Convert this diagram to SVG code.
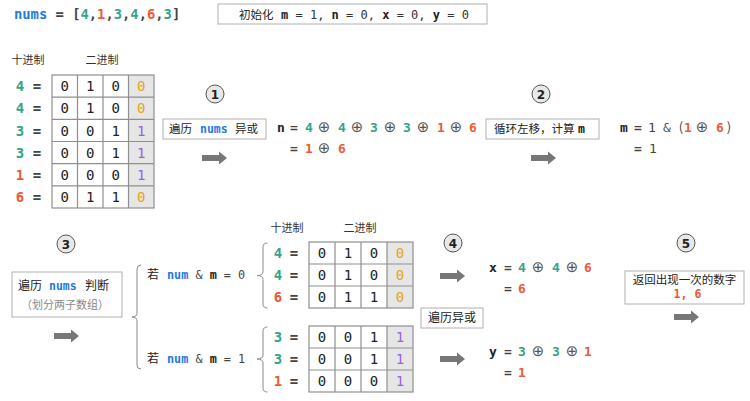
<svg xmlns="http://www.w3.org/2000/svg" xmlns:xlink="http://www.w3.org/1999/xlink" width="750" height="401" viewBox="0 0 750 401">
<defs>
<style>
.m{font-family:"DejaVu Sans Mono","Liberation Mono",monospace}
.cj{font-family:"Noto Sans CJK SC","Noto Sans",sans-serif}
.b{font-weight:bold}
.t{fill:#35a38c}
.r{fill:#ec5a36}
.bl{fill:#1f7ae0}
.g{fill:#e3a511}
.p{fill:#9b5de5}
.k{fill:#222}
.box{fill:#fff;stroke:#b0b0b0;stroke-width:1}
.grid{fill:none;stroke:#8f8f8f;stroke-width:1.2}
.shade{fill:#e6e6e6}
.cell{font-family:"DejaVu Sans Mono","Liberation Mono",monospace;font-size:14px;fill:#222;text-anchor:middle}
.lab{font-family:"DejaVu Sans Mono","Liberation Mono",monospace;font-size:14px;font-weight:bold;text-anchor:middle}
.eq{font-family:"DejaVu Sans Mono","Liberation Mono",monospace;font-size:13px;text-anchor:middle}
.op{font-family:"DejaVu Sans","Liberation Sans",sans-serif;font-size:15px;fill:#555;text-anchor:middle}
.hd{font-family:"Noto Sans CJK SC",sans-serif;font-size:11px;fill:#333;text-anchor:middle}
.circ{fill:#e8e8e8;stroke:#555;stroke-width:1}
.num{font-family:"DejaVu Sans","Liberation Sans",sans-serif;font-size:12px;font-weight:bold;fill:#222;text-anchor:middle}
.arr{fill:#777}
.brace{fill:none;stroke:#8a8a8a;stroke-width:1}
</style>
<path id="arrow" d="M0,-3 H17 V-6.5 L25,0 L17,6.5 V3 H0 Z"/>
</defs>
<rect width="750" height="401" fill="#fff"/>

<g id="title">
<text x="14" y="19" class="m b" font-size="13.8"><tspan class="bl">nums</tspan><tspan fill="#444"> = [</tspan><tspan class="t">4</tspan><tspan fill="#444">,</tspan><tspan class="r">1</tspan><tspan fill="#444">,</tspan><tspan class="t">3</tspan><tspan fill="#444">,</tspan><tspan class="t">4</tspan><tspan fill="#444">,</tspan><tspan class="r">6</tspan><tspan fill="#444">,</tspan><tspan class="t">3</tspan><tspan fill="#444">]</tspan></text>
</g>

<g id="init">
<rect class="box" x="218" y="4" width="269" height="20"/>
<text x="239" y="19" class="cj" font-size="11.5" fill="#222">初始化</text>
<text x="281" y="19" class="m" font-size="12" fill="#333"><tspan class="b k">m</tspan> = 1, <tspan class="b k">n</tspan> = 0, <tspan class="b k">x</tspan> = 0, <tspan class="b k">y</tspan> = 0</text>
</g>

<g id="table-left">
<text x="28" y="64" class="hd">十进制</text>
<text x="102" y="64" class="hd">二进制</text>
<rect class="shade" x="128.5" y="75" width="25.5" height="133"/>
<rect class="grid" x="52" y="75" width="102" height="133"/>
<path class="grid" d="M77.5,75V208M103,75V208M128.5,75V208M52,97.2H154M52,119.3H154M52,141.5H154M52,163.7H154M52,185.8H154"/>
<g class="lab">
<text x="20" y="91" class="t">4</text><text x="20" y="113" class="t">4</text><text x="20" y="135.5" class="t">3</text><text x="20" y="157.5" class="t">3</text><text x="20" y="180" class="r">1</text><text x="20" y="202" class="r">6</text>
</g>
<g class="lab" fill="#444">
<text x="37" y="91">=</text><text x="37" y="113">=</text><text x="37" y="135.5">=</text><text x="37" y="157.5">=</text><text x="37" y="180">=</text><text x="37" y="202">=</text>
</g>
<g class="cell">
<text x="64.75" y="91">0</text><text x="90.25" y="91">1</text><text x="115.75" y="91">0</text><text x="141.25" y="91" class="g">0</text>
<text x="64.75" y="113">0</text><text x="90.25" y="113">1</text><text x="115.75" y="113">0</text><text x="141.25" y="113" class="g">0</text>
<text x="64.75" y="135.5">0</text><text x="90.25" y="135.5">0</text><text x="115.75" y="135.5">1</text><text x="141.25" y="135.5" class="p">1</text>
<text x="64.75" y="157.5">0</text><text x="90.25" y="157.5">0</text><text x="115.75" y="157.5">1</text><text x="141.25" y="157.5" class="p">1</text>
<text x="64.75" y="180">0</text><text x="90.25" y="180">0</text><text x="115.75" y="180">0</text><text x="141.25" y="180" class="p">1</text>
<text x="64.75" y="202">0</text><text x="90.25" y="202">1</text><text x="115.75" y="202">1</text><text x="141.25" y="202" class="g">0</text>
</g>
</g>

<g id="step1"><circle class="circ" cx="215" cy="94" r="9"/><text x="215" y="98.5" class="num">1</text></g>
<g id="box1">
<rect class="box" x="163" y="119" width="103" height="20"/>
<text y="133" font-size="11.5"><tspan x="169" class="cj" fill="#222">遍历</tspan><tspan x="200" class="m b bl">nums</tspan><tspan x="235" class="cj" fill="#222">异或</tspan></text>
</g>
<g id="arrow1"><use xlink:href="#arrow" href="#arrow" x="202" y="158" class="arr"/></g>

<g id="eq-n">
<text x="281" y="132" class="eq b k">n</text>
<text x="294" y="132" class="eq b" fill="#444">=</text>
<text x="309" y="132" class="eq b t">4</text>
<text x="324" y="132" class="op">⊕</text>
<text x="342" y="132" class="eq b t">4</text>
<text x="357" y="132" class="op">⊕</text>
<text x="374" y="132" class="eq b t">3</text>
<text x="390" y="132" class="op">⊕</text>
<text x="407" y="132" class="eq b t">3</text>
<text x="423" y="132" class="op">⊕</text>
<text x="441" y="132" class="eq b r">1</text>
<text x="456" y="132" class="op">⊕</text>
<text x="473" y="132" class="eq b r">6</text>
<text x="294" y="153" class="eq b" fill="#444">=</text>
<text x="309" y="153" class="eq b r">1</text>
<text x="324" y="153" class="op">⊕</text>
<text x="342" y="153" class="eq b r">6</text>
</g>

<g id="step2"><circle class="circ" cx="541" cy="94" r="9"/><text x="541" y="98.5" class="num">2</text></g>
<g id="box2">
<rect class="box" x="486" y="119" width="113" height="20"/>
<text y="133" font-size="11.5"><tspan x="494" class="cj" fill="#222">循环左移，计算</tspan><tspan x="578" class="m b k">m</tspan></text>
</g>
<g id="arrow2"><use xlink:href="#arrow" href="#arrow" x="531" y="158" class="arr"/></g>

<g id="eq-m">
<text x="624" y="132" class="eq b k">m</text>
<text x="638" y="132" class="eq b" fill="#444">=</text>
<text x="652" y="132" class="eq" fill="#444">1</text>
<text x="667" y="132" class="eq" fill="#555">&amp;</text>
<text x="681" y="132" class="cj" font-size="13" fill="#444" text-anchor="middle">(</text>
<text x="688" y="132" class="eq b r">1</text>
<text x="702" y="132" class="op">⊕</text>
<text x="720" y="132" class="eq b r">6</text>
<text x="729" y="132" class="cj" font-size="13" fill="#444" text-anchor="middle">)</text>
<text x="638" y="153" class="eq b" fill="#444">=</text>
<text x="653" y="153" class="eq" fill="#444">1</text>
</g>

<g id="step3"><circle class="circ" cx="66" cy="244" r="9"/><text x="66" y="248.5" class="num">3</text></g>
<g id="box3">
<rect class="box" x="12" y="272" width="110" height="45"/>
<text y="290" font-size="12"><tspan x="18" class="cj" fill="#222">遍历</tspan><tspan x="49" class="m b bl" font-size="11.5">nums</tspan><tspan x="85" class="cj" fill="#222">判断</tspan></text>
<text x="65" y="309" class="cj" font-size="11" fill="#888" text-anchor="middle">（划分两子数组）</text>
</g>
<g id="arrow3"><use xlink:href="#arrow" href="#arrow" x="54" y="336" class="arr"/></g>

<g id="cond0">
<text x="147" y="279" class="cj" font-size="12" fill="#222">若</text>
<text x="167" y="279" class="m" font-size="11.8" fill="#444"><tspan class="b bl">num</tspan> &amp; <tspan class="b k">m</tspan> = 0</text>
</g>
<g id="cond1">
<text x="147" y="363" class="cj" font-size="12" fill="#222">若</text>
<text x="167" y="363" class="m" font-size="11.8" fill="#444"><tspan class="b bl">num</tspan> &amp; <tspan class="b k">m</tspan> = 1</text>
</g>

<g id="connectors">
<path class="brace" d="M141,265 Q137,265 137,269 V313 Q137,317 132,317 Q137,317 137,321 V365 Q137,369 141,369"/>
<path class="brace" d="M267.5,243 Q263,243 263,247 V271.5 Q263,275.5 257,275.5 Q263,275.5 263,279.5 V304 Q263,308 267.5,308"/>
<path class="brace" d="M267.5,327 Q263,327 263,331 V355 Q263,359 257,359 Q263,359 263,363 V388 Q263,392 267.5,392"/>
</g>

<g id="table-top">
<text x="287" y="232" class="hd">十进制</text>
<text x="360" y="232" class="hd">二进制</text>
<rect class="shade" x="387" y="242" width="26" height="66"/>
<rect class="grid" x="309" y="242" width="104" height="66"/>
<path class="grid" d="M335,242V308M361,242V308M387,242V308M309,264H413M309,286H413"/>
<g class="lab"><text x="278" y="258" class="t">4</text><text x="278" y="280" class="t">4</text><text x="278" y="302" class="r">6</text></g>
<g class="lab" fill="#444"><text x="294" y="258">=</text><text x="294" y="280">=</text><text x="294" y="302">=</text></g>
<g class="cell">
<text x="322" y="258">0</text><text x="348" y="258">1</text><text x="374" y="258">0</text><text x="400" y="258" class="g">0</text>
<text x="322" y="280">0</text><text x="348" y="280">1</text><text x="374" y="280">0</text><text x="400" y="280" class="g">0</text>
<text x="322" y="302">0</text><text x="348" y="302">1</text><text x="374" y="302">1</text><text x="400" y="302" class="g">0</text>
</g>
</g>

<g id="table-bottom">
<rect class="shade" x="387" y="326" width="26" height="66"/>
<rect class="grid" x="309" y="326" width="104" height="66"/>
<path class="grid" d="M335,326V392M361,326V392M387,326V392M309,348H413M309,370H413"/>
<g class="lab"><text x="278" y="342" class="t">3</text><text x="278" y="364" class="t">3</text><text x="278" y="386" class="r">1</text></g>
<g class="lab" fill="#444"><text x="294" y="342">=</text><text x="294" y="364">=</text><text x="294" y="386">=</text></g>
<g class="cell">
<text x="322" y="342">0</text><text x="348" y="342">0</text><text x="374" y="342">1</text><text x="400" y="342" class="p">1</text>
<text x="322" y="364">0</text><text x="348" y="364">0</text><text x="374" y="364">1</text><text x="400" y="364" class="p">1</text>
<text x="322" y="386">0</text><text x="348" y="386">0</text><text x="374" y="386">0</text><text x="400" y="386" class="p">1</text>
</g>
</g>

<g id="step4"><circle class="circ" cx="453" cy="243" r="9"/><text x="453" y="247.5" class="num">4</text></g>
<g id="arrow4a"><use xlink:href="#arrow" href="#arrow" x="440" y="276" class="arr"/></g>
<g id="box4">
<rect class="box" x="421" y="308" width="62" height="20"/>
<text x="452" y="322" class="cj" font-size="12" fill="#222" text-anchor="middle">遍历异或</text>
</g>
<g id="arrow4b"><use xlink:href="#arrow" href="#arrow" x="440" y="359" class="arr"/></g>

<g id="eq-x">
<text x="493" y="272" class="eq b k">x</text>
<text x="508" y="272" class="eq b" fill="#444">=</text>
<text x="522" y="272" class="eq b t">4</text>
<text x="538" y="272" class="op">⊕</text>
<text x="556" y="272" class="eq b t">4</text>
<text x="572" y="272" class="op">⊕</text>
<text x="588" y="272" class="eq b r">6</text>
<text x="508" y="293" class="eq b" fill="#444">=</text>
<text x="522" y="293" class="eq b r">6</text>
</g>
<g id="eq-y">
<text x="493" y="356" class="eq b k">y</text>
<text x="508" y="356" class="eq b" fill="#444">=</text>
<text x="522" y="356" class="eq b t">3</text>
<text x="538" y="356" class="op">⊕</text>
<text x="556" y="356" class="eq b t">3</text>
<text x="572" y="356" class="op">⊕</text>
<text x="588" y="356" class="eq b r">1</text>
<text x="508" y="377" class="eq b" fill="#444">=</text>
<text x="522" y="377" class="eq b r">1</text>
</g>

<g id="step5"><circle class="circ" cx="686" cy="243" r="9"/><text x="686" y="247.5" class="num">5</text></g>
<g id="box5">
<rect class="box" x="625" y="271" width="119" height="33"/>
<text x="684.5" y="284" class="cj" font-size="11.5" fill="#222" text-anchor="middle">返回出现一次的数字</text>
<text x="687.5" y="298" class="m b r" font-size="11.6" text-anchor="middle">1, 6</text>
</g>
<g id="arrow5"><use xlink:href="#arrow" href="#arrow" x="674" y="317" class="arr"/></g>
</svg>
